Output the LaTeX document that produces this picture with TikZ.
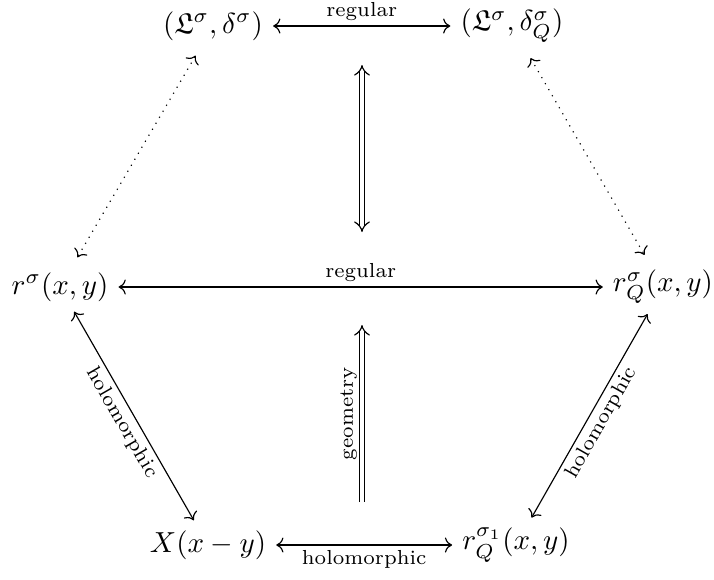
\documentclass[tikz,border=0pt]{standalone}
\usepackage{amsmath,amssymb}
\usetikzlibrary{arrows.meta}
\begin{document}
\begin{tikzpicture}[x=0.345pt,y=-0.345pt,
  obj/.style={inner sep=0.333em},
  lbl/.style={font=\scriptsize, inner sep=1.5pt},
  biarrow/.style={draw, line width=0.4pt, arrows={Computer Modern Rightarrow[]-Computer Modern Rightarrow[]}},
  dotarrow/.style={biarrow, dotted, shorten <=2pt, shorten >=2pt},
  dblarrow/.style={draw, double, double distance=1.5pt, line width=0.4pt}]
\useasboundingbox (0,0) rectangle (714,579);
\node[obj] (A) at (213,26) {$(\mathfrak{L}^\sigma,\delta^\sigma)$};
\node[obj] (B) at (512,26) {$(\mathfrak{L}^\sigma,\delta^\sigma_Q)$};
\node[obj] (C) at (60,287) {$r^\sigma(x,y)$};
\node[obj] (D) at (663,287) {$r^\sigma_Q(x,y)$};
\node[obj] (E) at (208,545) {$X(x-y)$};
\node[obj] (F) at (516,545) {$r^{\sigma_1}_Q(x,y)$};
\coordinate (T1) at (362,65);
\coordinate (T2) at (362,232);
\coordinate (G1) at (362,502);
\coordinate (G2) at (362,325);
\draw[biarrow] (A) -- node[lbl, above] {regular} (B);
\draw[biarrow] (C) -- node[lbl, above] {regular} (D);
\draw[biarrow] (E) -- node[lbl, below] {holomorphic} (F);
\draw[biarrow] (C) -- node[lbl, sloped, below] {holomorphic} (E);
\draw[biarrow] (F) -- node[lbl, sloped, below] {holomorphic} (D);
\draw[dotarrow] (A) -- (C);
\draw[dotarrow] (B) -- (D);
\draw[dblarrow, arrows={Implies-Implies}] (T1) -- (T2);
\draw[dblarrow, arrows={-Implies}] (G1) -- node[lbl, sloped, above] {geometry} (G2);
\end{tikzpicture}
\end{document}
